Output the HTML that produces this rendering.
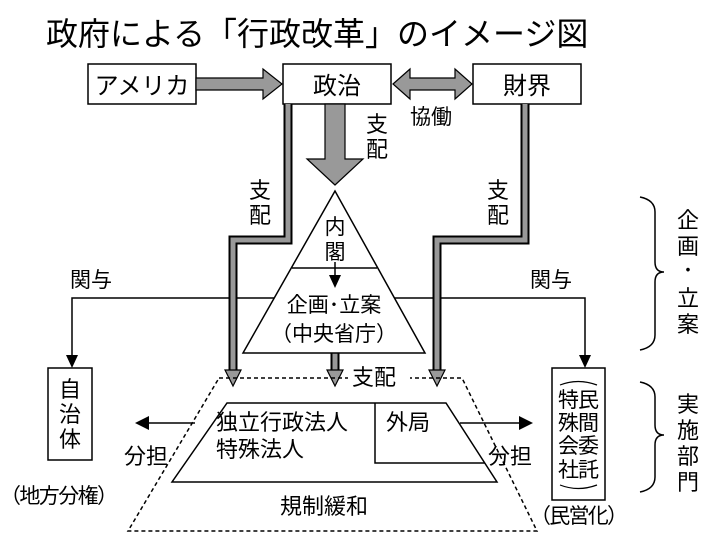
<!DOCTYPE html>
<html><head><meta charset="utf-8"><style>
html,body{margin:0;padding:0;background:#fff;}
svg{display:block;}
text{font-family:"Liberation Sans","Noto Sans CJK JP",sans-serif;fill:#000;}
</style></head><body>
<svg width="704" height="535" viewBox="0 0 704 535" xmlns="http://www.w3.org/2000/svg">
<text x="46" y="45" font-size="32">政府による「行政改革」のイメージ図</text>

<!-- top boxes -->
<g fill="#fff" stroke="#000" stroke-width="1.5">
<rect x="88" y="64" width="108" height="40"/>
<rect x="283" y="64" width="108" height="40"/>
<rect x="473" y="64" width="108" height="40"/>
</g>
<text x="142" y="94" font-size="24" text-anchor="middle">アメリカ</text>
<text x="337" y="94" font-size="24" text-anchor="middle">政治</text>
<text x="527" y="94" font-size="24" text-anchor="middle">財界</text>

<g fill="#999" stroke="#000" stroke-width="1.2">
<polygon points="196,78 263,78 263,69 282,84 263,99 263,90 196,90"/>
<polygon points="393,84 410,69 410,78 455,78 455,69 472,84 455,99 455,90 410,90 410,99"/>
<polygon points="325,104 345,104 345,159 363,159 335,185 307,159 325,159"/>
</g>

<!-- 関与 lines (behind triangle) -->
<g stroke="#000" stroke-width="1.5" fill="none">
<polyline points="300,298 72,298 72,356"/>
<polyline points="370,298 585,298 585,356"/>
</g>
<polygon points="66,355 78,355 72,368" fill="#000"/>
<polygon points="579,355 591,355 585,368" fill="#000"/>
<text x="70" y="287" font-size="21">関与</text>
<text x="530" y="287" font-size="21">関与</text>

<!-- gray connectors -->
<g fill="none" stroke-linejoin="miter">
<polyline points="288,104 288,240 233,240 233,372" stroke="#000" stroke-width="9"/>
<polyline points="288,104 288,240 233,240 233,372" stroke="#999" stroke-width="5"/>
<polyline points="525,104 525,240 437,240 437,372" stroke="#000" stroke-width="9"/>
<polyline points="525,104 525,240 437,240 437,372" stroke="#999" stroke-width="5"/>
<line x1="335" y1="353" x2="335" y2="372" stroke="#000" stroke-width="9"/>
<line x1="335" y1="353" x2="335" y2="372" stroke="#999" stroke-width="5"/>
</g>
<g fill="#999" stroke="#000" stroke-width="1.2">
<polygon points="225,370 241,370 233,386"/>
<polygon points="429,370 445,370 437,386"/>
<polygon points="327,370 343,370 335,386"/>
</g>

<text x="366" y="132" font-size="22">支</text>
<text x="366" y="157" font-size="22">配</text>
<text x="410" y="124" font-size="21">協働</text>
<text x="249" y="198" font-size="22">支</text>
<text x="249" y="223" font-size="22">配</text>
<text x="487" y="198" font-size="22">支</text>
<text x="487" y="223" font-size="22">配</text>

<!-- triangle -->
<polygon points="335,191 243,353 425,353" fill="#fff" stroke="#000" stroke-width="1.5"/>
<line x1="292" y1="268" x2="377" y2="268" stroke="#000" stroke-width="1.5"/>
<text x="335" y="234" font-size="21" text-anchor="middle">内</text>
<text x="335" y="259" font-size="21" text-anchor="middle">閣</text>
<line x1="335" y1="262" x2="335" y2="275" stroke="#000" stroke-width="1.5"/>
<polygon points="329,275 341,275 335,288" fill="#000"/>
<text x="334" y="312" font-size="21" text-anchor="middle">企画･立案</text>
<text x="334" y="341" font-size="21" text-anchor="middle">（中央省庁）</text>

<!-- dashed trapezoid -->
<polygon points="219,378 462,378 537,531 128,531" fill="none" stroke="#000" stroke-width="1.5" stroke-dasharray="4,3"/>
<rect x="348" y="364" width="62" height="24" fill="#fff"/>
<text x="352" y="385" font-size="22">支配</text>

<!-- solid trapezoid -->
<polygon points="227,403 446,403 497,482 172,482" fill="#fff" stroke="#000" stroke-width="1.5"/>
<polyline points="375,403 375,463 485,463" fill="none" stroke="#000" stroke-width="1.5"/>
<text x="216" y="430" font-size="22">独立行政法人</text>
<text x="216" y="457" font-size="22">特殊法人</text>
<text x="386" y="430" font-size="22">外局</text>
<text x="280" y="514" font-size="22">規制緩和</text>

<!-- side arrows -->
<line x1="148" y1="423" x2="195" y2="423" stroke="#000" stroke-width="1.5"/>
<polygon points="135,423 149,416 149,430" fill="#000"/>
<line x1="460" y1="423" x2="520" y2="423" stroke="#000" stroke-width="1.5"/>
<polygon points="533,423 519,416 519,430" fill="#000"/>
<text x="124" y="464" font-size="22">分担</text>
<text x="488" y="464" font-size="22">分担</text>

<!-- 自治体 -->
<rect x="48" y="368" width="44" height="92" fill="#fff" stroke="#000" stroke-width="1.5"/>
<text x="70" y="397" font-size="22" text-anchor="middle">自</text>
<text x="70" y="422" font-size="22" text-anchor="middle">治</text>
<text x="70" y="447" font-size="22" text-anchor="middle">体</text>
<text x="0" y="503" font-size="21" textLength="118">（地方分権）</text>

<!-- right box -->
<rect x="552" y="368" width="53" height="132" fill="#fff" stroke="#000" stroke-width="1.5"/>
<path d="M560,385 Q578,378 597,385" fill="none" stroke="#000" stroke-width="1.2"/>
<path d="M560,485 Q578,492 597,485" fill="none" stroke="#000" stroke-width="1.2"/>
<text x="578" y="407" font-size="21" text-anchor="middle" letter-spacing="-1">特民</text>
<text x="578" y="430" font-size="21" text-anchor="middle" letter-spacing="-1">殊間</text>
<text x="578" y="453" font-size="21" text-anchor="middle" letter-spacing="-1">会委</text>
<text x="578" y="477" font-size="21" text-anchor="middle" letter-spacing="-1">社託</text>
<text x="530" y="523" font-size="21" textLength="98">（民営化）</text>

<!-- braces -->
<g fill="none" stroke="#000" stroke-width="1.5">
<path d="M640,197 Q655,200 655,212 L655,262 Q655,272 664,272 Q655,272 655,282 L655,335 Q655,347 640,350"/>
<path d="M640,382 Q655,385 655,397 L655,425 Q655,435 664,435 Q655,435 655,445 L655,477 Q655,489 640,492"/>
</g>
<g font-size="22" text-anchor="middle">
<text x="688" y="228">企</text>
<text x="688" y="254">画</text>
<text x="688" y="278">･</text>
<text x="688" y="306">立</text>
<text x="688" y="332">案</text>
<text x="688" y="412">実</text>
<text x="688" y="438">施</text>
<text x="688" y="464">部</text>
<text x="688" y="490">門</text>
</g>
</svg>
</body></html>
